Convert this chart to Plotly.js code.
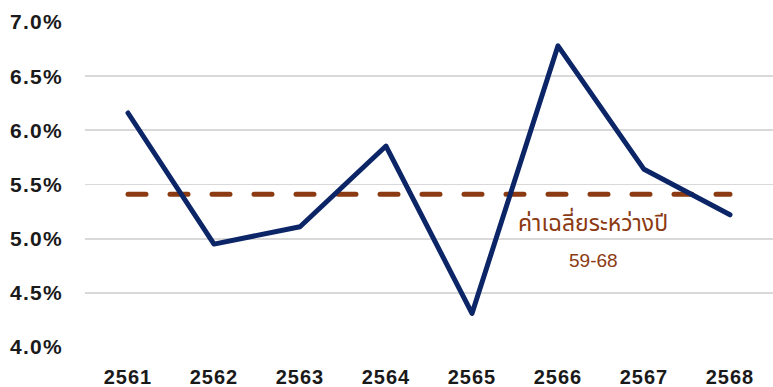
<!DOCTYPE html>
<html>
<head>
<meta charset="utf-8">
<script src="https://cdn.plot.ly/plotly-3.0.1.min.js"></script>
<style>
html,body{margin:0;padding:0;background:#fff;}
#chart{width:773px;height:387px;}
#chart .xtick text{letter-spacing:1px;}
#chart .ytick text{letter-spacing:1.3px;}
#chart path.js-line{stroke-linecap:round;stroke-linejoin:round;}
</style>
</head>
<body>
<div id="chart"></div>
<script>
const years = ['2561','2562','2563','2564','2565','2566','2567','2568'];
const rates = [6.16, 4.95, 5.11, 5.855, 4.31, 6.78, 5.64, 5.22];
const averageValue = 5.41;
const averageLabel = 'ค่าเฉลี่ยระหว่างปี';
const averageRange = '59-68';
const yTicks = [4.0, 4.5, 5.0, 5.5, 6.0, 6.5, 7.0];
const yTickLabels = ['4.0%', '4.5%', '5.0%', '5.5%', '6.0%', '6.5%', '7.0%'];

const avgSeries = years.map(() => averageValue);
const tickFamily = 'Liberation Sans, Arial, sans-serif';

const traces = [
  {x: years, y: avgSeries, type: 'scatter', mode: 'lines',
   line: {color: '#8B3A12', width: 5, dash: '18px,24px'}, hoverinfo: 'skip'},
  {x: years, y: rates, type: 'scatter', mode: 'lines',
   line: {color: '#0B2567', width: 5}}
];

const layout = {
  width: 773, height: 387,
  margin: {l: 85, r: 0, t: 22, b: 40},
  paper_bgcolor: '#fff', plot_bgcolor: '#fff',
  showlegend: false,
  font: {family: tickFamily, color: '#1a1a1a'},
  xaxis: {type: 'category', showgrid: false, zeroline: false, showline: false,
          tickfont: {size: 20, family: tickFamily, weight: 'bold', color: '#1a1a1a'},
          ticks: '', ticklen: 0, range: [-0.5, 7.5], ticklabelstandoff: 16},
  yaxis: {range: [4, 7], tickmode: 'array', tickvals: yTicks, ticktext: yTickLabels,
          showgrid: true, gridcolor: '#d9d9d9', gridwidth: 1.8, zeroline: false, showline: false,
          tickfont: {size: 21, family: tickFamily, weight: 'bold', color: '#1a1a1a'},
          ticklabelstandoff: 21},
  annotations: [
    {x: 5.41, y: 5.14, xref: 'x', yref: 'y', text: averageLabel, showarrow: false,
     font: {size: 23, color: '#8B3A12', family: 'Noto Sans Thai, Tahoma, Noto Sans, sans-serif'}},
    {x: 5.41, y: 4.80, xref: 'x', yref: 'y', text: averageRange, showarrow: false,
     font: {size: 19, color: '#8B3A12', family: 'Liberation Sans, Arial, sans-serif'}}
  ]
};

Plotly.newPlot('chart', traces, layout, {displayModeBar: false, staticPlot: true});
</script>
</body>
</html>
